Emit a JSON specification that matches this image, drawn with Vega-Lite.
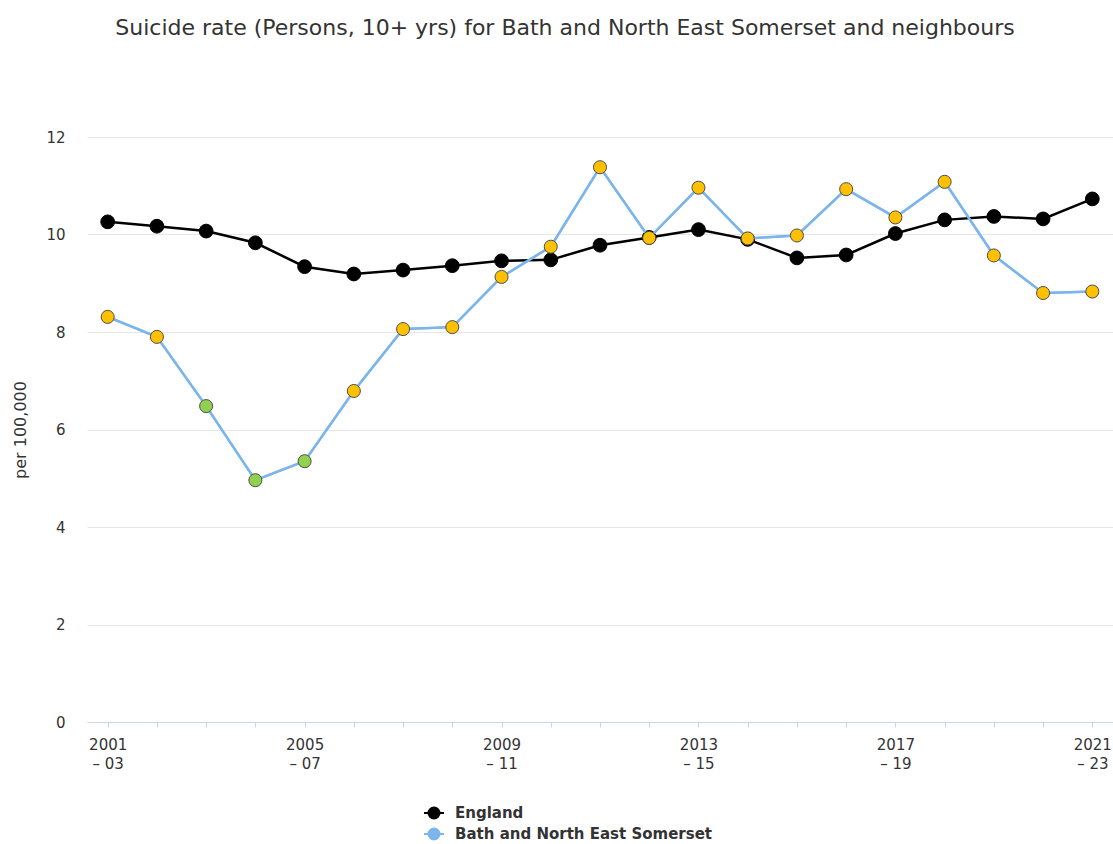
{
  "$schema": "https://vega.github.io/schema/vega-lite/v6.json",
  "width": 1026,
  "height": 585,
  "autosize": "none",
  "padding": {"left": 87, "top": 137, "right": 0, "bottom": 122},
  "background": "white",
  "config": {
    "view": {"stroke": null},
    "font": "DejaVu Sans"
  },
  "title": {
    "text": "Suicide rate (Persons, 10+ yrs) for Bath and North East Somerset and neighbours",
    "fontSize": 22,
    "fontWeight": "normal",
    "color": "#333333",
    "font": "DejaVu Sans",
    "anchor": "middle",
    "frame": "group",
    "dx": -35,
    "offset": 90
  },
  "data": {
    "values": [
      {"period": "2001 – 03", "series": "England", "value": 10.26, "sig": "England"},
      {"period": "2002 – 04", "series": "England", "value": 10.17, "sig": "England"},
      {"period": "2003 – 05", "series": "England", "value": 10.07, "sig": "England"},
      {"period": "2004 – 06", "series": "England", "value": 9.83, "sig": "England"},
      {"period": "2005 – 07", "series": "England", "value": 9.34, "sig": "England"},
      {"period": "2006 – 08", "series": "England", "value": 9.19, "sig": "England"},
      {"period": "2007 – 09", "series": "England", "value": 9.27, "sig": "England"},
      {"period": "2008 – 10", "series": "England", "value": 9.36, "sig": "England"},
      {"period": "2009 – 11", "series": "England", "value": 9.46, "sig": "England"},
      {"period": "2010 – 12", "series": "England", "value": 9.48, "sig": "England"},
      {"period": "2011 – 13", "series": "England", "value": 9.78, "sig": "England"},
      {"period": "2012 – 14", "series": "England", "value": 9.94, "sig": "England"},
      {"period": "2013 – 15", "series": "England", "value": 10.1, "sig": "England"},
      {"period": "2014 – 16", "series": "England", "value": 9.9, "sig": "England"},
      {"period": "2015 – 17", "series": "England", "value": 9.52, "sig": "England"},
      {"period": "2016 – 18", "series": "England", "value": 9.58, "sig": "England"},
      {"period": "2017 – 19", "series": "England", "value": 10.02, "sig": "England"},
      {"period": "2018 – 20", "series": "England", "value": 10.3, "sig": "England"},
      {"period": "2019 – 21", "series": "England", "value": 10.37, "sig": "England"},
      {"period": "2020 – 22", "series": "England", "value": 10.32, "sig": "England"},
      {"period": "2021 – 23", "series": "England", "value": 10.73, "sig": "England"},
      {"period": "2001 – 03", "series": "Bath and North East Somerset", "value": 8.31, "sig": "Similar"},
      {"period": "2002 – 04", "series": "Bath and North East Somerset", "value": 7.9, "sig": "Similar"},
      {"period": "2003 – 05", "series": "Bath and North East Somerset", "value": 6.48, "sig": "Lower"},
      {"period": "2004 – 06", "series": "Bath and North East Somerset", "value": 4.96, "sig": "Lower"},
      {"period": "2005 – 07", "series": "Bath and North East Somerset", "value": 5.35, "sig": "Lower"},
      {"period": "2006 – 08", "series": "Bath and North East Somerset", "value": 6.79, "sig": "Similar"},
      {"period": "2007 – 09", "series": "Bath and North East Somerset", "value": 8.06, "sig": "Similar"},
      {"period": "2008 – 10", "series": "Bath and North East Somerset", "value": 8.1, "sig": "Similar"},
      {"period": "2009 – 11", "series": "Bath and North East Somerset", "value": 9.13, "sig": "Similar"},
      {"period": "2010 – 12", "series": "Bath and North East Somerset", "value": 9.75, "sig": "Similar"},
      {"period": "2011 – 13", "series": "Bath and North East Somerset", "value": 11.38, "sig": "Similar"},
      {"period": "2012 – 14", "series": "Bath and North East Somerset", "value": 9.93, "sig": "Similar"},
      {"period": "2013 – 15", "series": "Bath and North East Somerset", "value": 10.96, "sig": "Similar"},
      {"period": "2014 – 16", "series": "Bath and North East Somerset", "value": 9.92, "sig": "Similar"},
      {"period": "2015 – 17", "series": "Bath and North East Somerset", "value": 9.98, "sig": "Similar"},
      {"period": "2016 – 18", "series": "Bath and North East Somerset", "value": 10.93, "sig": "Similar"},
      {"period": "2017 – 19", "series": "Bath and North East Somerset", "value": 10.35, "sig": "Similar"},
      {"period": "2018 – 20", "series": "Bath and North East Somerset", "value": 11.08, "sig": "Similar"},
      {"period": "2019 – 21", "series": "Bath and North East Somerset", "value": 9.57, "sig": "Similar"},
      {"period": "2020 – 22", "series": "Bath and North East Somerset", "value": 8.8, "sig": "Similar"},
      {"period": "2021 – 23", "series": "Bath and North East Somerset", "value": 8.83, "sig": "Similar"}
    ]
  },
  "encoding": {
    "x": {
      "field": "period",
      "type": "ordinal",
      "sort": null,
      "scale": {"type": "point", "padding": 0.42},
      "axis": {
        "title": null,
        "labelAngle": 0,
        "labelFontSize": 15,
        "labelColor": "#333333",
        "labelFont": "DejaVu Sans",
        "labelLineHeight": 19,
        "labelPadding": 10,
        "labelBaseline": "top",
        "labelExpr": "indexof(['2001 – 03','2005 – 07','2009 – 11','2013 – 15','2017 – 19','2021 – 23'], datum.value) >= 0 ? [slice(datum.value,0,4), slice(datum.value,5)] : ''",
        "domainColor": "#ccd6eb",
        "domainWidth": 1,
        "tickColor": "#ccd6eb",
        "tickSize": 5,
        "grid": false,
        "labelOverlap": false
      }
    },
    "y": {
      "field": "value",
      "type": "quantitative",
      "scale": {"domain": [0, 12], "nice": false, "zero": true},
      "axis": {
        "title": "per 100,000",
        "titleFontSize": 16,
        "titleFontWeight": "normal",
        "titleColor": "#333333",
        "titleFont": "DejaVu Sans",
        "titlePadding": 17,
        "values": [0, 2, 4, 6, 8, 10, 12],
        "labelFontSize": 15,
        "labelColor": "#333333",
        "labelFont": "DejaVu Sans",
        "labelPadding": 22,
        "ticks": false,
        "domain": false,
        "gridColor": "#e6e6e6",
        "gridWidth": 1
      }
    }
  },
  "layer": [
    {
      "mark": {"type": "line", "strokeWidth": 2.5},
      "encoding": {
        "color": {
          "field": "series",
          "type": "nominal",
          "sort": ["England", "Bath and North East Somerset"],
          "scale": {"domain": ["England", "Bath and North East Somerset"], "range": ["#000000", "#7cb5ec"]},
          "legend": {
            "title": null,
            "orient": "none",
            "legendX": 336,
            "legendY": 665,
            "direction": "vertical",
            "labelFontSize": 15,
            "labelFontWeight": "bold",
            "labelColor": "#333333",
            "labelFont": "DejaVu Sans",
            "labelLimit": 500,
            "rowPadding": 0,
            "symbolType": "M-1,0H1M0.55,0A0.55,0.55,0,1,1,-0.55,0A0.55,0.55,0,1,1,0.55,0Z",
            "symbolSize": 400,
            "symbolStrokeWidth": 2,
            "labelOffset": 10,
            "encode": {
              "symbols": {
                "update": {
                  "fill": {"scale": "color", "field": "value"},
                  "fillOpacity": {"value": 1}
                }
              }
            }
          }
        }
      }
    },
    {
      "transform": [{"filter": "datum.series === 'England'"}],
      "mark": {"type": "point", "filled": true, "size": 190, "fill": "#000000", "stroke": "#000000", "strokeWidth": 1, "opacity": 1}
    },
    {
      "transform": [{"filter": "datum.series !== 'England'"}],
      "mark": {"type": "line", "strokeWidth": 2.2, "color": "#7cb5ec"}
    },
    {
      "transform": [{"filter": "datum.series !== 'England'"}],
      "mark": {"type": "point", "filled": true, "size": 170, "stroke": "#4d4d4d", "strokeWidth": 1, "opacity": 1},
      "encoding": {
        "fill": {
          "field": "sig",
          "type": "nominal",
          "scale": {"domain": ["Similar", "Lower"], "range": ["#ffc000", "#92d050"]},
          "legend": null
        }
      }
    }
  ]
}
